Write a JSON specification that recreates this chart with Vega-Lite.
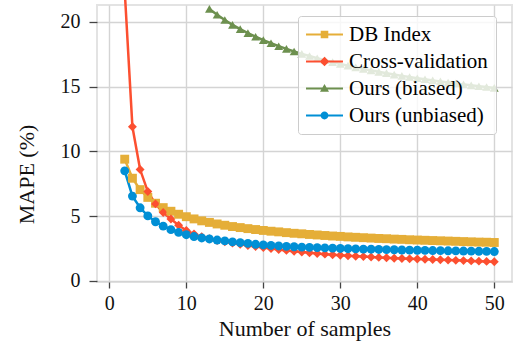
{
  "$schema": "https://vega.github.io/schema/vega-lite/v6.json",
  "width": 415,
  "height": 277,
  "autosize": "none",
  "padding": {"left": 97, "top": 5, "right": 3, "bottom": 63},
  "background": "white",
  "config": {
    "font": "Liberation Serif",
    "view": {"stroke": "#e3e3e3", "strokeWidth": 2},
    "axis": {
      "labelFont": "Liberation Serif",
      "labelFontSize": 20,
      "labelColor": "#111",
      "titleFont": "Liberation Serif",
      "titleFontSize": 22,
      "titleFontWeight": "normal",
      "titleColor": "#111",
      "domain": false,
      "grid": true,
      "gridColor": "#d4d4d4",
      "gridWidth": 1.4,
      "tickColor": "#444",
      "tickWidth": 1.3
    }
  },
  "data": {
    "values": [
      {"samples": 2, "DB Index": 9.40, "Cross-validation": 22.4, "Ours (unbiased)": 8.50},
      {"samples": 3, "DB Index": 7.93, "Cross-validation": 11.9, "Ours (unbiased)": 6.55},
      {"samples": 4, "DB Index": 7.05, "Cross-validation": 8.6, "Ours (unbiased)": 5.65},
      {"samples": 5, "DB Index": 6.45, "Cross-validation": 6.9, "Ours (unbiased)": 5.02},
      {"samples": 6, "DB Index": 6.00, "Cross-validation": 5.95, "Ours (unbiased)": 4.57},
      {"samples": 7, "DB Index": 5.66, "Cross-validation": 5.28, "Ours (unbiased)": 4.23},
      {"samples": 8, "DB Index": 5.38, "Cross-validation": 4.78, "Ours (unbiased)": 3.96},
      {"samples": 9, "DB Index": 5.15, "Cross-validation": 4.30, "Ours (unbiased)": 3.75},
      {"samples": 10, "DB Index": 4.96, "Cross-validation": 3.90, "Ours (unbiased)": 3.57},
      {"samples": 11, "DB Index": 4.79, "Cross-validation": 3.62, "Ours (unbiased)": 3.43},
      {"samples": 12, "DB Index": 4.64, "Cross-validation": 3.42, "Ours (unbiased)": 3.32},
      {"samples": 13, "DB Index": 4.52, "Cross-validation": 3.26, "Ours (biased)": 21.0, "Ours (unbiased)": 3.24},
      {"samples": 14, "DB Index": 4.40, "Cross-validation": 3.13, "Ours (biased)": 20.55, "Ours (unbiased)": 3.16},
      {"samples": 15, "DB Index": 4.30, "Cross-validation": 3.02, "Ours (biased)": 20.14, "Ours (unbiased)": 3.09},
      {"samples": 16, "DB Index": 4.20, "Cross-validation": 2.92, "Ours (biased)": 19.77, "Ours (unbiased)": 3.02},
      {"samples": 17, "DB Index": 4.12, "Cross-validation": 2.83, "Ours (biased)": 19.44, "Ours (unbiased)": 2.96},
      {"samples": 18, "DB Index": 4.04, "Cross-validation": 2.74, "Ours (biased)": 19.13, "Ours (unbiased)": 2.90},
      {"samples": 19, "DB Index": 3.97, "Cross-validation": 2.66, "Ours (biased)": 18.85, "Ours (unbiased)": 2.83},
      {"samples": 20, "DB Index": 3.90, "Cross-validation": 2.58, "Ours (biased)": 18.59, "Ours (unbiased)": 2.78},
      {"samples": 21, "DB Index": 3.84, "Cross-validation": 2.50, "Ours (biased)": 18.35, "Ours (unbiased)": 2.74},
      {"samples": 22, "DB Index": 3.79, "Cross-validation": 2.43, "Ours (biased)": 18.12, "Ours (unbiased)": 2.70},
      {"samples": 23, "DB Index": 3.73, "Cross-validation": 2.36, "Ours (biased)": 17.91, "Ours (unbiased)": 2.67},
      {"samples": 24, "DB Index": 3.68, "Cross-validation": 2.29, "Ours (biased)": 17.71, "Ours (unbiased)": 2.64},
      {"samples": 25, "DB Index": 3.64, "Cross-validation": 2.23, "Ours (biased)": 17.53, "Ours (unbiased)": 2.61},
      {"samples": 26, "DB Index": 3.59, "Cross-validation": 2.17, "Ours (biased)": 17.36, "Ours (unbiased)": 2.59},
      {"samples": 27, "DB Index": 3.55, "Cross-validation": 2.12, "Ours (biased)": 17.19, "Ours (unbiased)": 2.57},
      {"samples": 28, "DB Index": 3.51, "Cross-validation": 2.07, "Ours (biased)": 17.04, "Ours (unbiased)": 2.55},
      {"samples": 29, "DB Index": 3.47, "Cross-validation": 2.02, "Ours (biased)": 16.89, "Ours (unbiased)": 2.53},
      {"samples": 30, "DB Index": 3.44, "Cross-validation": 1.98, "Ours (biased)": 16.75, "Ours (unbiased)": 2.51},
      {"samples": 31, "DB Index": 3.40, "Cross-validation": 1.95, "Ours (biased)": 16.62, "Ours (unbiased)": 2.49},
      {"samples": 32, "DB Index": 3.37, "Cross-validation": 1.91, "Ours (biased)": 16.49, "Ours (unbiased)": 2.48},
      {"samples": 33, "DB Index": 3.34, "Cross-validation": 1.88, "Ours (biased)": 16.37, "Ours (unbiased)": 2.46},
      {"samples": 34, "DB Index": 3.31, "Cross-validation": 1.85, "Ours (biased)": 16.25, "Ours (unbiased)": 2.45},
      {"samples": 35, "DB Index": 3.28, "Cross-validation": 1.82, "Ours (biased)": 16.14, "Ours (unbiased)": 2.43},
      {"samples": 36, "DB Index": 3.26, "Cross-validation": 1.79, "Ours (biased)": 16.04, "Ours (unbiased)": 2.42},
      {"samples": 37, "DB Index": 3.23, "Cross-validation": 1.76, "Ours (biased)": 15.93, "Ours (unbiased)": 2.41},
      {"samples": 38, "DB Index": 3.21, "Cross-validation": 1.74, "Ours (biased)": 15.83, "Ours (unbiased)": 2.39},
      {"samples": 39, "DB Index": 3.18, "Cross-validation": 1.71, "Ours (biased)": 15.74, "Ours (unbiased)": 2.38},
      {"samples": 40, "DB Index": 3.16, "Cross-validation": 1.69, "Ours (biased)": 15.65, "Ours (unbiased)": 2.37},
      {"samples": 41, "DB Index": 3.14, "Cross-validation": 1.67, "Ours (biased)": 15.57, "Ours (unbiased)": 2.36},
      {"samples": 42, "DB Index": 3.12, "Cross-validation": 1.65, "Ours (biased)": 15.48, "Ours (unbiased)": 2.35},
      {"samples": 43, "DB Index": 3.10, "Cross-validation": 1.63, "Ours (biased)": 15.40, "Ours (unbiased)": 2.34},
      {"samples": 44, "DB Index": 3.08, "Cross-validation": 1.61, "Ours (biased)": 15.32, "Ours (unbiased)": 2.33},
      {"samples": 45, "DB Index": 3.06, "Cross-validation": 1.59, "Ours (biased)": 15.25, "Ours (unbiased)": 2.32},
      {"samples": 46, "DB Index": 3.04, "Cross-validation": 1.57, "Ours (biased)": 15.17, "Ours (unbiased)": 2.31},
      {"samples": 47, "DB Index": 3.02, "Cross-validation": 1.55, "Ours (biased)": 15.10, "Ours (unbiased)": 2.30},
      {"samples": 48, "DB Index": 3.00, "Cross-validation": 1.53, "Ours (biased)": 15.03, "Ours (unbiased)": 2.29},
      {"samples": 49, "DB Index": 2.99, "Cross-validation": 1.51, "Ours (biased)": 14.97, "Ours (unbiased)": 2.28},
      {"samples": 50, "DB Index": 2.97, "Cross-validation": 1.49, "Ours (biased)": 14.90, "Ours (unbiased)": 2.27}
    ]
  },
  "transform": [
    {"fold": ["DB Index", "Cross-validation", "Ours (biased)", "Ours (unbiased)"], "as": ["method", "mape"]},
    {"filter": "isValid(datum.mape)"}
  ],
  "encoding": {
    "x": {
      "field": "samples", "type": "quantitative",
      "scale": {"domain": [-1.6, 52.3], "nice": false, "zero": false},
      "axis": {
        "values": [0, 10, 20, 30, 40, 50],
        "title": "Number of samples",
        "tickSize": 6,
        "labelPadding": 21,
        "labelBaseline": "alphabetic",
        "titleBaseline": "alphabetic",
        "titleY": 53
      }
    },
    "y": {
      "field": "mape", "type": "quantitative",
      "scale": {"domain": [-0.08, 21.3], "nice": false, "zero": false},
      "axis": {
        "values": [0, 5, 10, 15, 20],
        "title": "MAPE (%)",
        "tickSize": 8,
        "labelPadding": 9,
        "titleBaseline": "alphabetic",
        "titleAngle": -90,
        "titleX": -64,
        "titleY": 169
      }
    },
    "color": {
      "field": "method", "type": "nominal",
      "scale": {
        "domain": ["DB Index", "Cross-validation", "Ours (biased)", "Ours (unbiased)"],
        "range": ["#e5ae38", "#fc4f30", "#6d904f", "#008fd5"]
      },
      "legend": {
        "orient": "none",
        "legendX": 201,
        "legendY": 11,
        "title": null,
        "labelFont": "Liberation Serif",
        "labelFontSize": 21,
        "labelColor": "#000",
        "labelOffset": 14,
        "symbolOffset": 8,
        "symbolSize": 441,
        "symbolStrokeWidth": 0,
        "fillColor": "rgba(255,255,255,0.8)",
        "strokeColor": "#cccccc",
        "cornerRadius": 3,
        "padding": 8,
        "rowPadding": 5,
        "encode": {
          "symbols": {
            "update": {
              "shape": {"signal": "datum.value === 'DB Index' ? 'M-1.76,-0.1H1.76V0.1H-1.76ZM-0.36,-0.36H0.36V0.36H-0.36Z' : datum.value === 'Cross-validation' ? 'M-1.76,-0.1H1.76V0.1H-1.76ZM-0.46,0L0,-0.46L0.46,0L0,0.46Z' : datum.value === 'Ours (biased)' ? 'M-1.76,-0.1H1.76V0.1H-1.76ZM-0.43,0.32L0,-0.43L0.43,0.32Z' : 'M-1.76,-0.1H1.76V0.1H-1.76ZM0.37,0A0.37,0.37,0,1,1,-0.37,0A0.37,0.37,0,1,1,0.37,0Z'"},
              "size": {"value": 441},
              "fill": {"scale": "color", "field": "value"},
              "fillOpacity": {"value": 1},
              "strokeWidth": {"value": 0},
              "opacity": {"value": 1}
            }
          }
        }
      }
    }
  },
  "layer": [
    {
      "mark": {"type": "line", "strokeWidth": 2.5},
      "encoding": {}
    },
    {
      "mark": {"type": "point", "filled": true, "opacity": 1},
      "encoding": {
        "shape": {
          "field": "method", "type": "nominal",
          "scale": {
            "domain": ["Ours (unbiased)", "Ours (biased)", "Cross-validation", "DB Index"],
            "range": ["circle", "triangle-up", "diamond", "square"]
          },
          "legend": null
        },
        "size": {
          "field": "method", "type": "nominal",
          "scale": {
            "domain": ["Cross-validation", "DB Index", "Ours (unbiased)", "Ours (biased)"],
            "range": [80, 78, 62, 85]
          },
          "legend": null
        }
      }
    }
  ]
}
